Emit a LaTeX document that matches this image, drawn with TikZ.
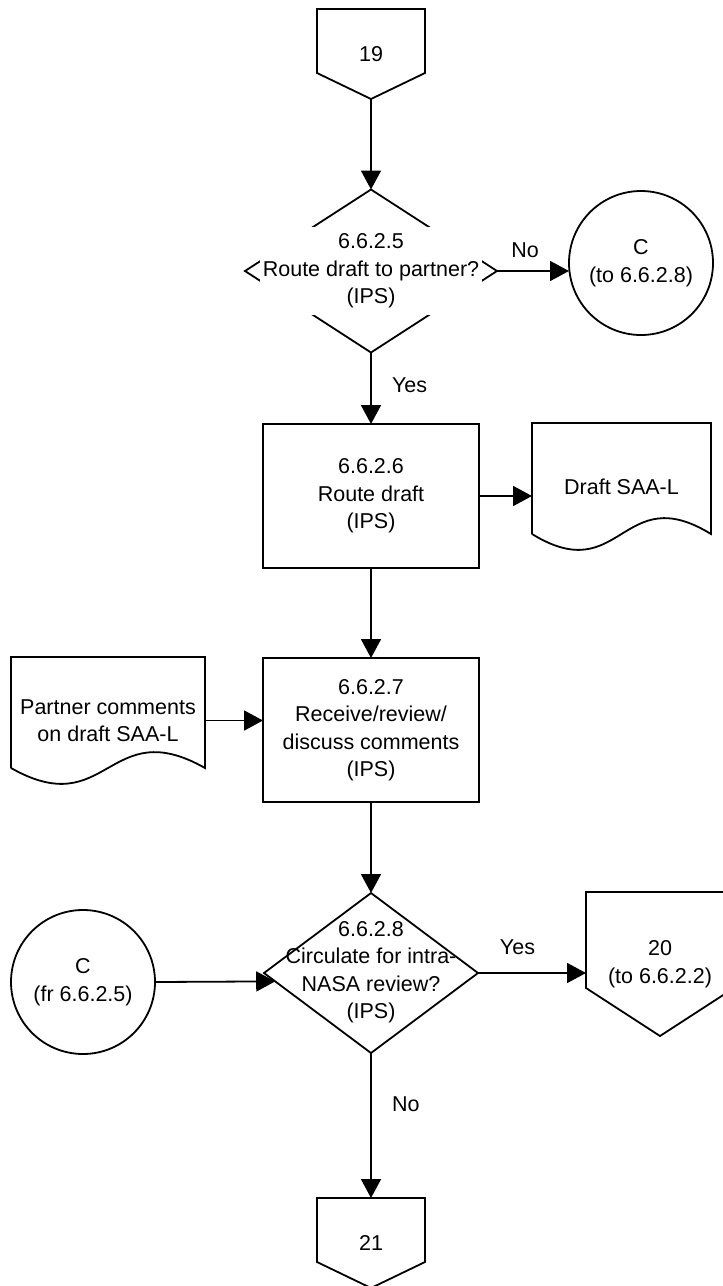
\documentclass[tikz,border=0pt]{standalone}
\usepackage{fontspec}
\setmainfont{Liberation Sans}
\usetikzlibrary{shapes.geometric,arrows.meta,calc}

\tikzset{
  every node/.style={font=\fontsize{21.5}{27.5}\selectfont, outer sep=0pt},
  line/.style={line width=1.8pt, line join=miter},
  arr/.style={line width=1.8pt, -{Triangle[length=19pt,width=20pt]}},
  procbox/.style={draw, line width=1.8pt, minimum width=216pt, minimum height=144pt,
                  align=center, inner sep=0pt},
  decision/.style={draw, diamond, line width=1.8pt, inner sep=0pt},
  connector/.style={draw, circle, line width=1.8pt, minimum size=144pt,
                    inner sep=0pt, align=center},
  pagebox/.style={align=center, inner sep=0pt},
  docbox/.style={align=center, inner sep=0pt},
  lbl/.style={inner sep=0pt},
}

\begin{document}
\begin{tikzpicture}[x=1pt, y=-1pt]
\useasboundingbox (0,0) rectangle (723,1286);
\clip (0,0) rectangle (723,1286);

% off-page connector in
\node[pagebox, minimum width=108pt, minimum height=90pt] (p19) at (371,54) {19};

% decision 6.6.2.5 (label box sits over the diamond)
\node[decision, minimum width=252pt, minimum height=163pt] (d1) at (371,271) {};
\node[fill=white, align=center, minimum width=222pt, minimum height=88pt, inner sep=0pt]
  (d1t) at (371,271) {6.6.2.5\\Route draft to partner?\\(IPS)};

\node[connector] (cto) at (641,263) {C\\(to 6.6.2.8)};

\node[procbox] (b6) at (371,496) {6.6.2.6\\Route draft\\(IPS)};
\node[docbox, minimum width=179pt, minimum height=127pt] (draft) at (621.5,486.5) {Draft SAA-L};

\node[procbox] (b7) at (371,730) {6.6.2.7\\Receive/review/\\discuss comments\\(IPS)};
\node[docbox, minimum width=194pt, minimum height=127pt] (partner) at (108,720.5)
  {Partner comments\\on draft SAA-L};

% decision 6.6.2.8
\node[decision, minimum width=214pt, minimum height=160pt] (d2) at (371,973) {};
\node[align=center, inner sep=0pt] (d2t) at (371,972)
  {6.6.2.8\\Circulate for intra-\\NASA review?\\(IPS)};

\node[connector] (cfr) at (83,982) {C\\(fr 6.6.2.5)};

% off-page connectors out
\node[pagebox, minimum width=148pt, minimum height=144pt] (p20) at (660,964) {20\\(to 6.6.2.2)};
\node[pagebox, minimum width=108pt, minimum height=90pt] (p21) at (371,1243) {21};

% pentagon outlines of the off-page connectors
\foreach \n/\t in {p19/26, p21/26, p20/48}
  \draw[line] (\n.north west) -- (\n.north east) -- ($(\n.south east)+(0,-\t)$)
    -- (\n.south) -- ($(\n.south west)+(0,-\t)$) -- cycle;

% document outlines with wavy bottom edge
\foreach \n in {draft, partner}
  \draw[line] ($(\n.south west)+(0,-16)$) -- (\n.north west) -- (\n.north east)
    -- ($(\n.south east)+(0,-16)$)
    .. controls ($(\n.south)+(0,-71)$) and ($(\n.south)+(0,39)$) ..
    ($(\n.south west)+(0,-16)$);

% flow
\draw[arr] (p19.south) -- (d1.north);
\draw[arr] (d1.east) -- node[lbl, above=13pt, xshift=-8pt] {No} (d1.east -| cto.west);
\draw[arr] (d1.south) -- node[lbl, right=21pt, yshift=3.5pt] {Yes} (b6.north);
\draw[arr] (b6.east) -- (b6.east -| draft.west);
\draw[arr] (b6.south) -- (b7.north);
\draw[arr] (partner.east) -- (partner.east -| b7.west);
\draw[arr] (b7.south) -- (d2.north);
\draw[arr] (cfr.east) -- (d2.185);
\draw[arr] (d2.east) -- node[lbl, above=18.5pt, xshift=-14.5pt] {Yes} (d2.east -| p20.west);
\draw[arr] (d2.south) -- node[lbl, right=21pt, yshift=21pt] {No} (p21.north);
\end{tikzpicture}
\end{document}
